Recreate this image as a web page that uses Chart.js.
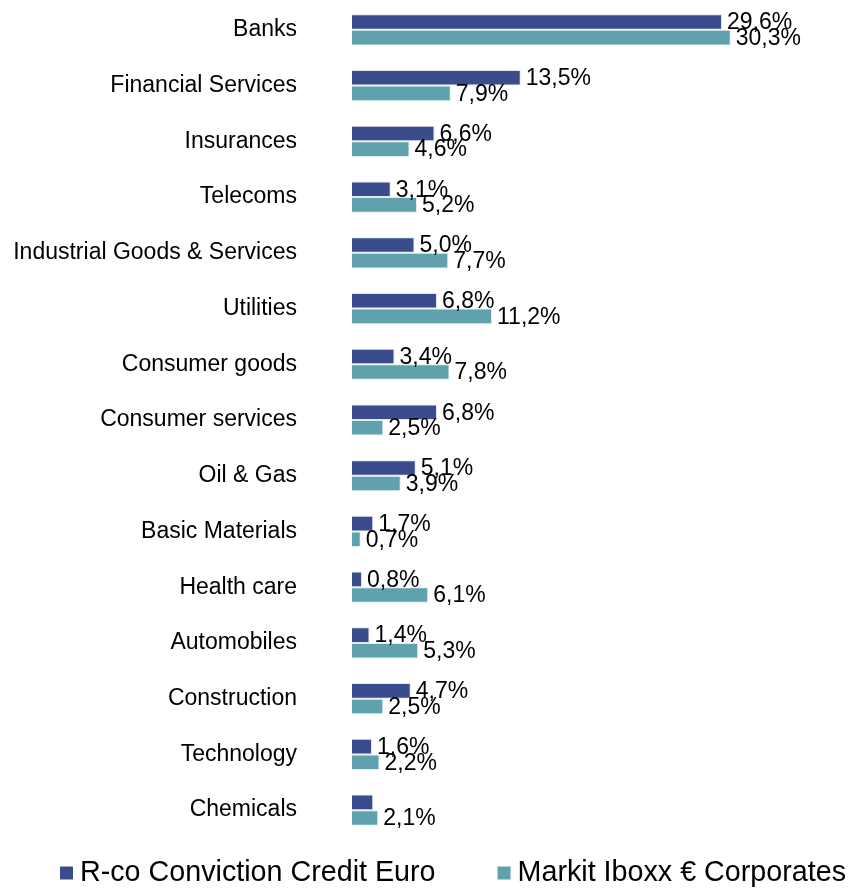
<!DOCTYPE html>
<html>
<head>
<meta charset="utf-8">
<script src="https://cdn.jsdelivr.net/npm/chart.js@4/dist/chart.umd.min.js"></script>
<style>
  html, body { margin:0; padding:0; background:#fff; }
  #wrap { width:852px; height:888px; position:relative; }
</style>
</head>
<body>
<div id="wrap"><canvas id="sectors"></canvas></div>
<script>
// Sector weights (%)
var CATEGORIES = ['Banks','Financial Services','Insurances','Telecoms','Industrial Goods & Services',
  'Utilities','Consumer goods','Consumer services','Oil & Gas','Basic Materials','Health care',
  'Automobiles','Construction','Technology','Chemicals'];
var FUND_VALUES  = [29.6,13.5,6.6,3.1,5.0,6.8,3.4,6.8,5.1,1.7,0.8,1.4,4.7,1.6,1.7];
var INDEX_VALUES = [30.3,7.9,4.6,5.2,7.7,11.2,7.8,2.5,3.9,0.7,6.1,5.3,2.5,2.2,2.1];
var SERIES_NAMES = ['R-co Conviction Credit Euro','Markit Iboxx € Corporates'];
// fund's Chemicals bar carries no label in the original
var HIDDEN_LABELS = [[0,14]];

var DARK = '#3a4c8c', TEAL = '#5fa2ae';
var FONT = '"Liberation Sans", Arial, sans-serif';

function fmt(v){ return v.toFixed(1).replace('.', ',') + '%'; }

// value labels at the end of each bar
var valueLabels = {
  id:'valueLabels',
  afterDatasetsDraw:function(chart){
    var ctx = chart.ctx;
    ctx.save();
    ctx.font = '23px ' + FONT;
    ctx.fillStyle = '#000';
    ctx.textAlign = 'left';
    ctx.textBaseline = 'middle';
    chart.data.datasets.forEach(function(ds, di){
      chart.getDatasetMeta(di).data.forEach(function(bar, i){
        var skip = HIDDEN_LABELS.some(function(h){ return h[0]===di && h[1]===i; });
        if (skip) return;
        ctx.fillText(fmt(ds.data[i]), bar.x + 5, bar.y + 1);
      });
    });
    ctx.restore();
  }
};

// bottom legend drawn by hand to match spacing
var bottomLegend = {
  id:'bottomLegend',
  afterDraw:function(chart){
    var ctx = chart.ctx;
    ctx.save();
    ctx.font = '28.7px ' + FONT;
    ctx.textBaseline = 'middle';
    var x = 60, y = 873, box = 13, gap = 62;
    chart.data.datasets.forEach(function(ds){
      ctx.fillStyle = ds.backgroundColor;
      ctx.fillRect(x, y - box/2, box, box);
      ctx.fillStyle = '#000';
      ctx.fillText(ds.label, x + box + 7, y);
      x += box + 7 + ctx.measureText(ds.label).width + gap;
    });
    ctx.restore();
  }
};

new Chart(document.getElementById('sectors'), {
  type:'bar',
  data:{
    labels: CATEGORIES,
    datasets:[
      { label:SERIES_NAMES[0], data:FUND_VALUES, backgroundColor:DARK,
        borderColor:'rgba(220,226,240,.9)', borderWidth:1 },
      { label:SERIES_NAMES[1], data:INDEX_VALUES, backgroundColor:TEAL,
        borderColor:'rgba(220,236,240,.9)', borderWidth:1 }
    ]
  },
  options:{
    indexAxis:'y',
    responsive:true, maintainAspectRatio:false, animation:false,
    categoryPercentage:0.56, barPercentage:1,
    layout:{ padding:{ top:2, bottom:50, left:0, right:0 } },
    plugins:{ legend:{display:false}, tooltip:{enabled:false} },
    scales:{
      x:{ display:false, min:0, max:40 },
      y:{
        grid:{display:false, drawTicks:false}, border:{display:false},
        ticks:{ color:'#000', font:{size:23, family:FONT}, padding:55 },
        afterFit:function(s){ s.width = 352; s.paddingTop = 0; s.paddingBottom = 0; }
      }
    }
  },
  plugins:[valueLabels, bottomLegend]
});
</script>
</body>
</html>
